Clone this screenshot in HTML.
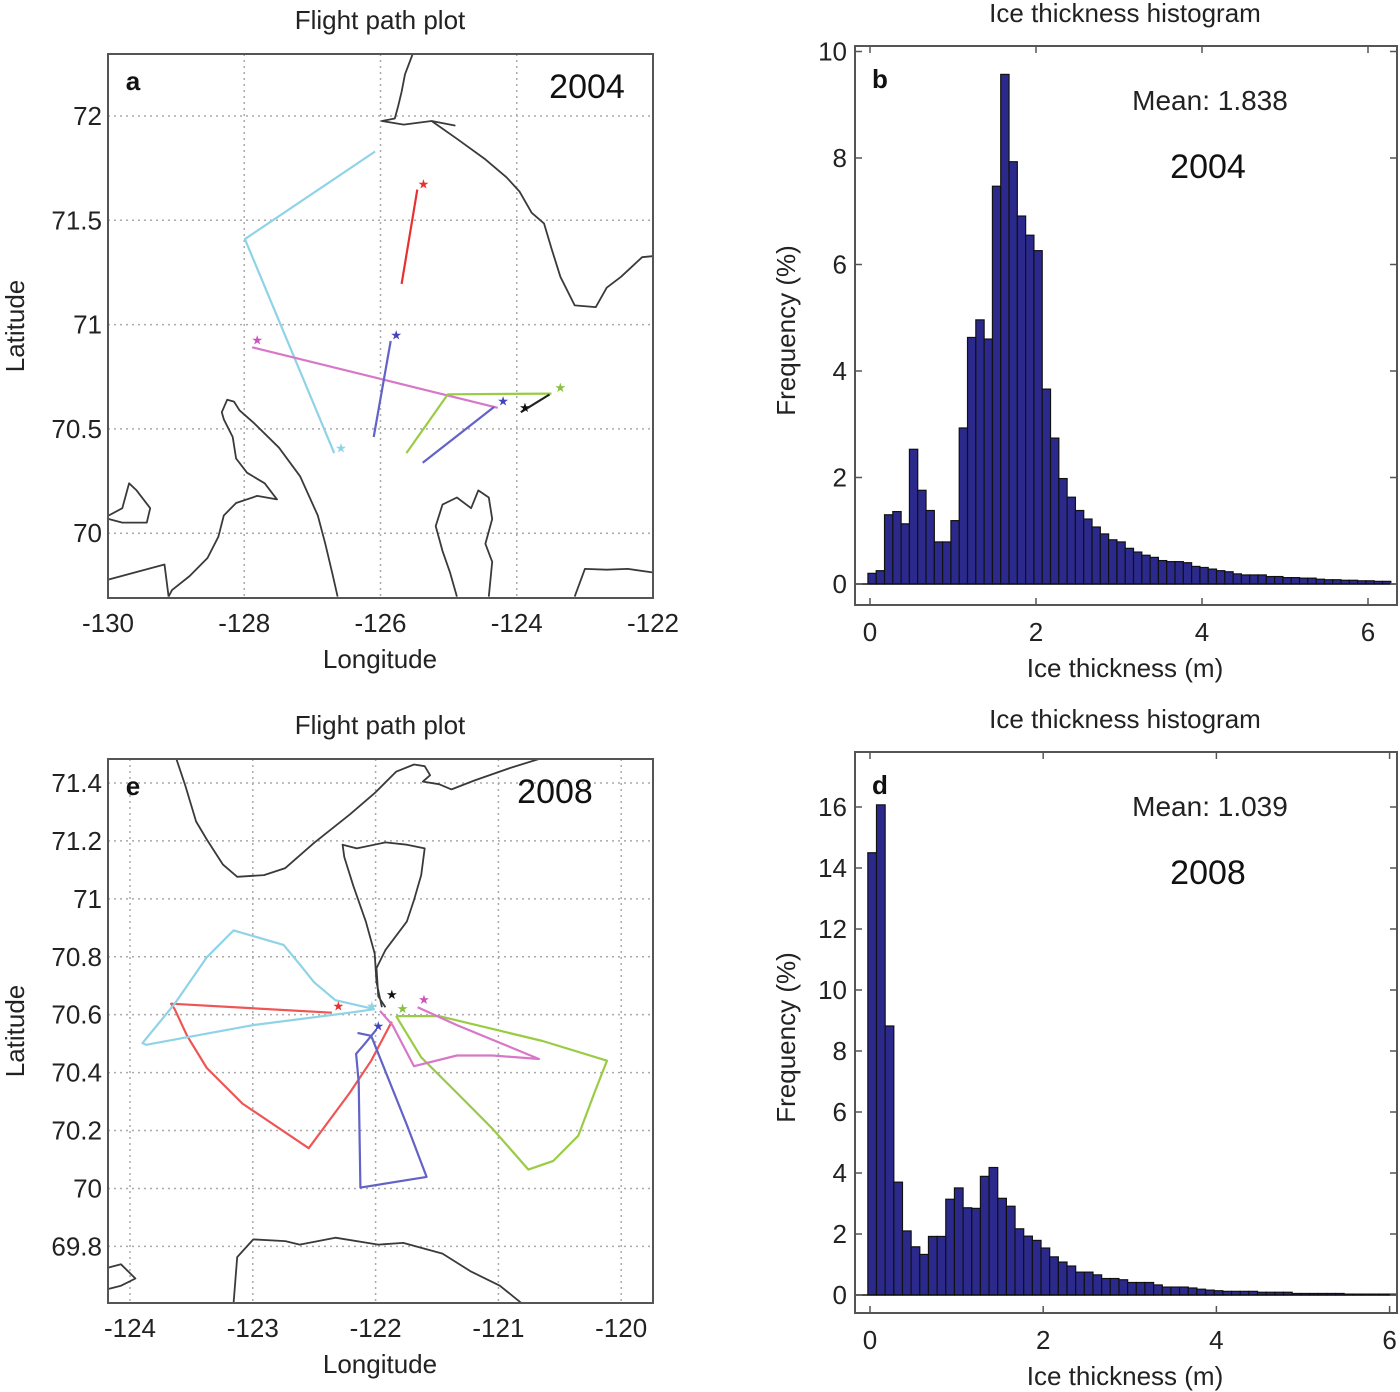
<!DOCTYPE html>
<html><head><meta charset="utf-8"><title>Flight paths and ice thickness</title>
<style>
html,body{margin:0;padding:0;background:#fff;}
svg{display:block;font-family:"Liberation Sans",Arial,sans-serif;}
</style></head>
<body>
<svg id="fig" width="1400" height="1392" viewBox="0 0 1400 1392" xmlns="http://www.w3.org/2000/svg">
<rect x="0" y="0" width="1400" height="1392" fill="#fff"/>
<g id="root"></g>
</svg>
<script>
// ---------- Histogram data ----------
const histBValues = [0.2,0.25,1.3,1.36,1.13,2.53,1.76,1.38,0.79,0.79,1.19,2.93,4.63,4.96,4.6,7.47,9.57,7.93,6.91,6.55,6.26,3.66,2.74,1.98,1.63,1.38,1.22,1.07,0.94,0.83,0.79,0.67,0.6,0.54,0.5,0.44,0.42,0.42,0.4,0.33,0.31,0.28,0.25,0.23,0.19,0.17,0.17,0.17,0.14,0.14,0.12,0.12,0.11,0.11,0.09,0.08,0.08,0.07,0.07,0.06,0.06,0.05,0.05,0.05];
const histDValues = [14.5,16.07,8.82,3.7,2.1,1.58,1.33,1.92,1.92,3.14,3.51,2.86,2.84,3.89,4.18,3.17,2.91,2.17,1.93,1.79,1.54,1.25,1.08,0.95,0.75,0.75,0.66,0.54,0.54,0.5,0.41,0.41,0.41,0.33,0.26,0.26,0.26,0.23,0.19,0.16,0.14,0.12,0.12,0.12,0.12,0.09,0.09,0.09,0.09,0.05,0.05,0.05,0.05,0.05,0.05,0.03,0.03,0.03,0.03,0.03,0.03,0.03];
const histBinStart = -0.025;
const histBinWidth = 0.1;
const histBYTicks = [0,2,4,6,8,10];
const histDYTicks = [0,2,4,6,8,10,12,14,16];
const histXTicks = [0,2,4,6];

// ---------- Map A (2004) data, [lon, lat] ----------
const mapALonTicks = [-130,-128,-126,-124,-122];
const mapALatTicks = [70,70.5,71,71.5,72];
const mapALatLabels = ["70","70.5","71","71.5","72"];
const mapAPathCyan = [[-126.08,71.83],[-127.99,71.41],[-126.68,70.384]];
const mapAPathRed = [[-125.69,71.195],[-125.46,71.647]];
const mapAPathMagenta = [[-127.885,70.891],[-124.28,70.601]];
const mapAPathBlue = [[-126.10,70.461],[-125.85,70.922]];
const mapAPathGreen = [[-125.62,70.384],[-125.01,70.666],[-123.49,70.669]];
const mapAPathBlue2 = [[-125.38,70.338],[-124.33,70.606]];
const mapAPathBlack = [[-123.94,70.58],[-123.52,70.665]];
const mapAStars = [[-126.58,70.41,"#8fd3e6"],[-125.37,71.676,"#e83030"],[-127.81,70.928,"#cc55bb"],[-125.77,70.952,"#4444bb"],[-123.36,70.70,"#88c040"],[-124.20,70.635,"#4444bb"],[-123.88,70.606,"#111"]];
const mapACoast1 = [[-125.53,72.295],[-125.64,72.20],[-125.69,72.116],[-125.74,72.048],[-125.79,71.988],[-125.98,71.976],[-125.66,71.959],[-125.25,71.976],[-124.90,71.954]];
const mapACoast2 = [[-125.25,71.976],[-124.88,71.891],[-124.46,71.792],[-124.15,71.706],[-123.96,71.638],[-123.78,71.536],[-123.60,71.485],[-123.49,71.365],[-123.36,71.229],[-123.15,71.092],[-122.84,71.084],[-122.68,71.177],[-122.47,71.229],[-122.16,71.323],[-122.01,71.328]];
const mapACoast3 = [[-126.63,69.696],[-126.71,69.812],[-126.81,69.949],[-126.92,70.085],[-127.18,70.273],[-127.49,70.41],[-127.86,70.529],[-128.07,70.589],[-128.15,70.631],[-128.25,70.640],[-128.33,70.580],[-128.30,70.546],[-128.17,70.461],[-128.12,70.358],[-127.96,70.29],[-127.70,70.239],[-127.52,70.162],[-127.81,70.179],[-128.12,70.145],[-128.30,70.085],[-128.38,69.983],[-128.54,69.881],[-128.80,69.795],[-129.06,69.727],[-129.11,69.696]];
const mapACoast4 = [[-129.99,69.778],[-129.17,69.85],[-129.11,69.696]];
const mapACoast5 = [[-129.99,70.085],[-129.79,70.12],[-129.69,70.239],[-129.58,70.205],[-129.38,70.12],[-129.43,70.051],[-129.79,70.051],[-129.99,70.068]];
const mapACoast6 = [[-124.879,69.696],[-124.98,69.812],[-125.09,69.915],[-125.19,70.034],[-125.09,70.137],[-124.879,70.171],[-124.67,70.12],[-124.565,70.205],[-124.41,70.171],[-124.36,70.068],[-124.46,69.949],[-124.36,69.863],[-124.41,69.696]];
const mapACoast7 = [[-123.15,69.696],[-123.0,69.829],[-122.68,69.825],[-122.37,69.829],[-122.01,69.812]];

// ---------- Map E (2008) data ----------
const mapELonTicks = [-124,-123,-122,-121,-120];
const mapELatTicks = [69.8,70,70.2,70.4,70.6,70.8,71,71.2,71.4];
const mapELatLabels = ["69.8","70","70.2","70.4","70.6","70.8","71","71.2","71.4"];
const mapEPathRed = [[-122.356,70.607],[-123.665,70.638],[-123.636,70.619],[-123.535,70.527],[-123.375,70.416],[-123.084,70.293],[-122.545,70.139],[-122.211,70.330],[-122.036,70.441],[-121.868,70.576]];
const mapEPathCyan = [[-122.007,70.619],[-122.327,70.650],[-122.502,70.712],[-122.618,70.774],[-122.749,70.841],[-123.156,70.891],[-123.375,70.798],[-123.636,70.638],[-123.898,70.502],[-123.869,70.496],[-122.996,70.564],[-122.211,70.607],[-122.007,70.619]];
const mapEPathBlue = [[-121.993,70.549],[-122.095,70.496],[-122.159,70.465],[-122.138,70.367],[-122.124,70.003],[-121.585,70.040],[-121.745,70.219],[-122.036,70.527],[-122.147,70.537]];
const mapEPathGreen = [[-121.833,70.595],[-121.484,70.595],[-120.64,70.509],[-120.116,70.441],[-120.218,70.330],[-120.349,70.182],[-120.553,70.095],[-120.756,70.065],[-121.047,70.206],[-121.338,70.330],[-121.629,70.453],[-121.833,70.595]];
const mapEPathMagenta = [[-121.658,70.626],[-121.338,70.564],[-120.669,70.447],[-121.047,70.459],[-121.338,70.459],[-121.687,70.422],[-121.862,70.564],[-121.964,70.613]];
const mapEStars = [[-122.304,70.632,"#e83030"],[-122.031,70.631,"#8fd3e6"],[-121.978,70.562,"#4444bb"],[-121.78,70.623,"#88c040"],[-121.606,70.654,"#cc55bb"],[-121.868,70.671,"#111"]];
const mapECoast1 = [[-123.622,71.483],[-123.549,71.39],[-123.462,71.267],[-123.375,71.205],[-123.244,71.119],[-123.127,71.076],[-122.909,71.082],[-122.735,71.106],[-122.502,71.193],[-122.211,71.291],[-122.007,71.365],[-121.833,71.439],[-121.687,71.464],[-121.6,71.458],[-121.556,71.427],[-121.615,71.405],[-121.484,71.396],[-121.382,71.378],[-121.193,71.409],[-120.902,71.452],[-120.669,71.483]];
const mapECoast2 = [[-121.949,70.626],[-121.993,70.712],[-122.007,70.811],[-122.08,70.922],[-122.182,71.045],[-122.255,71.144],[-122.269,71.187],[-122.153,71.174],[-121.92,71.195],[-121.745,71.187],[-121.6,71.174],[-121.629,71.082],[-121.687,70.996],[-121.745,70.922],[-121.92,70.823],[-121.993,70.761],[-121.978,70.663],[-121.92,70.626]];
const mapECoast3 = [[-123.156,69.605],[-123.127,69.763],[-122.996,69.824],[-122.735,69.818],[-122.618,69.806],[-122.327,69.83],[-121.978,69.806],[-121.775,69.812],[-121.455,69.775],[-121.222,69.713],[-120.989,69.664],[-120.815,69.605]];
const mapECoast4 = [[-124.183,69.726],[-124.073,69.738],[-123.956,69.689],[-124.073,69.664],[-124.183,69.652]];

const NS = "http://www.w3.org/2000/svg";
const root = document.getElementById('root');
function mk(tag, attrs, parent){
  const e = document.createElementNS(NS, tag);
  for (const k in attrs) e.setAttribute(k, attrs[k]);
  (parent||root).appendChild(e);
  return e;
}
function txt(s, x, y, size, anchor, parent, extra){
  const t = mk('text', Object.assign({x:x, y:y, 'font-size':size, 'text-anchor':anchor||'middle', fill:'#222'}, extra||{}), parent);
  t.textContent = s;
  return t;
}

// ---------- Histogram ----------
function histogram(cfg){
  const g = mk('g', {});
  
  
  const X = v => cfg.x0 + v * cfg.xs;
  const Y = v => cfg.y0 - v * cfg.ys;
  // bars
  cfg.values.forEach((v, i) => {
    const l = X(histBinStart + i * histBinWidth);
    const r = X(histBinStart + (i + 1) * histBinWidth);
    if (r > cfg.right) return;
    const b = mk('rect', {x:l, y:Y(v), width:r-l, height:Y(0)-Y(v), fill:'#2b2a8c', stroke:'#111', 'stroke-width':1.2}, g);
    
    
  });
  mk('line', {x1:cfg.left, x2:cfg.right, y1:Y(0), y2:Y(0), stroke:'#111', 'stroke-width':1.5}, g);
  // frame
  const f = mk('rect', {x:cfg.left, y:cfg.top, width:cfg.right-cfg.left, height:cfg.bottom-cfg.top, fill:'none', stroke:'#555', 'stroke-width':2}, g);
  
  
  // y ticks
  cfg.yticks.forEach(t => {
    mk('line', {x1:cfg.left, x2:cfg.left+7, y1:Y(t), y2:Y(t), stroke:'#555', 'stroke-width':1.5}, g);
    mk('line', {x1:cfg.right, x2:cfg.right-7, y1:Y(t), y2:Y(t), stroke:'#555', 'stroke-width':1.5}, g);
    const l = txt(String(t), cfg.left - 8, Y(t) + 9, 26, 'end', g);
    
    
  });
  histXTicks.forEach(t => {
    mk('line', {x1:X(t), x2:X(t), y1:cfg.bottom, y2:cfg.bottom-7, stroke:'#555', 'stroke-width':1.5}, g);
    mk('line', {x1:X(t), x2:X(t), y1:cfg.top, y2:cfg.top+7, stroke:'#555', 'stroke-width':1.5}, g);
    const l = txt(String(t), X(t), cfg.bottom + 36, 26, 'middle', g);
    
    
  });
  const tt = txt('Ice  thickness histogram', 1125, cfg.top - 24, 26, 'middle', g, {'xml:space':'preserve'});
  
  
  const xl = txt('Ice  thickness (m)', 1125, cfg.bottom + 72, 26, 'middle', g, {'xml:space':'preserve'});
  
  
  const yc = (cfg.top + cfg.bottom) / 2 + 5;
  const yl = txt('Frequency (%)', 795, yc, 26, 'middle', g, {transform:'rotate(-90 795 '+yc+')'});
  
  
  const pl = txt(cfg.letter, cfg.left + 25, cfg.top + 42, 26, 'middle', g, {'font-weight':'bold', fill:'#111'});
  
  
  const mn = txt(cfg.mean, 1210, cfg.top + 64, 28, 'middle', g);
  
  
  const yr = txt(cfg.year, 1208, cfg.top + 132, 34, 'middle', g, {fill:'#111'});
  
  
}

histogram({name:'histogram-2004', values:histBValues, x0:870, xs:83, y0:584, ys:53.25,
  left:855, right:1397, top:46, bottom:605, yticks:histBYTicks, letter:'b', mean:'Mean: 1.838', year:'2004'});
histogram({name:'histogram-2008', values:histDValues, x0:870, xs:86.6, y0:1295, ys:30.5,
  left:855, right:1397, top:752, bottom:1313, yticks:histDYTicks, letter:'d', mean:'Mean: 1.039', year:'2008'});

// ---------- Maps ----------
function map(cfg){
  const g = mk('g', {});
  
  
  const X = lon => cfg.x0 + (lon - cfg.lon0) * cfg.xs;
  const Y = lat => cfg.y0 - (lat - cfg.lat0) * cfg.ys;
  const clipId = cfg.name + '-clip';
  const cp = mk('clipPath', {id:clipId}, g);
  mk('rect', {x:cfg.left, y:cfg.top, width:cfg.right-cfg.left, height:cfg.bottom-cfg.top}, cp);
  const inner = mk('g', {'clip-path':'url(#'+clipId+')'}, g);
  // grid
  cfg.lonTicks.forEach(t => {
    mk('line', {x1:X(t), x2:X(t), y1:cfg.top, y2:cfg.bottom, stroke:'#aaa', 'stroke-width':1.5, 'stroke-dasharray':'2,4'}, inner);
  });
  cfg.latTicks.forEach(t => {
    mk('line', {x1:cfg.left, x2:cfg.right, y1:Y(t), y2:Y(t), stroke:'#aaa', 'stroke-width':1.5, 'stroke-dasharray':'2,4'}, inner);
  });
  const pts = arr => arr.map(p => X(p[0]).toFixed(1) + ',' + Y(p[1]).toFixed(1)).join(' ');
  cfg.coasts.forEach(c => {
    const p = mk('polyline', {points:pts(c), fill:'none', stroke:'#3a3a3a', 'stroke-width':1.8, 'stroke-linejoin':'round'}, inner);
    
    
  });
  cfg.paths.forEach(pp => {
    const p = mk('polyline', {points:pts(pp[0]), fill:'none', stroke:pp[1], 'stroke-width':2.2, 'stroke-linejoin':'round'}, inner);
    
    
  });
  cfg.stars.forEach(s => {
    const t = txt('★', X(s[0]), Y(s[1]) + 5, 13, 'middle', inner, {fill:s[2]});
    
    
  });
  const f = mk('rect', {x:cfg.left, y:cfg.top, width:cfg.right-cfg.left, height:cfg.bottom-cfg.top, fill:'none', stroke:'#555', 'stroke-width':2}, g);
  
  
  cfg.lonTicks.forEach(t => {
    const l = txt(String(t), X(t), cfg.bottom + 34, 26, 'middle', g);
    
    
  });
  cfg.latTicks.forEach((t, i) => {
    const l = txt(cfg.latLabels[i], cfg.left - 6, Y(t) + 9, 26, 'end', g);
    
    
  });
  const tt = txt('Flight path plot', 380, cfg.top - 25, 26, 'middle', g);
  
  
  const xl = txt('Longitude', 380, cfg.bottom + 70, 26, 'middle', g);
  
  
  const yc = (cfg.top + cfg.bottom) / 2;
  const yl = txt('Latitude', 24, yc, 26, 'middle', g, {transform:'rotate(-90 24 '+yc+')'});
  
  
  const pl = txt(cfg.letter, cfg.left + 25, cfg.top + 36, 26, 'middle', g, {'font-weight':'bold', fill:'#111'});
  
  
  const yr = txt(cfg.year, cfg.yearX, cfg.top + 44, 34, 'middle', g, {fill:'#111'});
  
  
}

map({name:'flight-map-2004', left:108, right:653, top:54, bottom:598,
  lon0:-130, x0:108, xs:68.125, lat0:72, y0:116, ys:208.6,
  lonTicks:mapALonTicks, latTicks:mapALatTicks, latLabels:mapALatLabels,
  coasts:[mapACoast1,mapACoast2,mapACoast3,mapACoast4,mapACoast5,mapACoast6,mapACoast7],
  paths:[[mapAPathCyan,'#8fd3e6'],[mapAPathRed,'#e83030'],[mapAPathMagenta,'#d877c8'],[mapAPathBlue,'#6262c8'],[mapAPathGreen,'#99cc44'],[mapAPathBlue2,'#6262c8'],[mapAPathBlack,'#222']],
  stars:mapAStars, letter:'a', year:'2004', yearX:587});

map({name:'flight-map-2008', left:108, right:653, top:759, bottom:1303,
  lon0:-124, x0:130, xs:122.8, lat0:71.4, y0:783, ys:289.6,
  lonTicks:mapELonTicks, latTicks:mapELatTicks, latLabels:mapELatLabels,
  coasts:[mapECoast1,mapECoast2,mapECoast3,mapECoast4],
  paths:[[mapEPathRed,'#ee5555'],[mapEPathCyan,'#8fd3e6'],[mapEPathBlue,'#6262c8'],[mapEPathGreen,'#99cc44'],[mapEPathMagenta,'#d877c8']],
  stars:mapEStars, letter:'e', year:'2008', yearX:555});
</script>
</body></html>
